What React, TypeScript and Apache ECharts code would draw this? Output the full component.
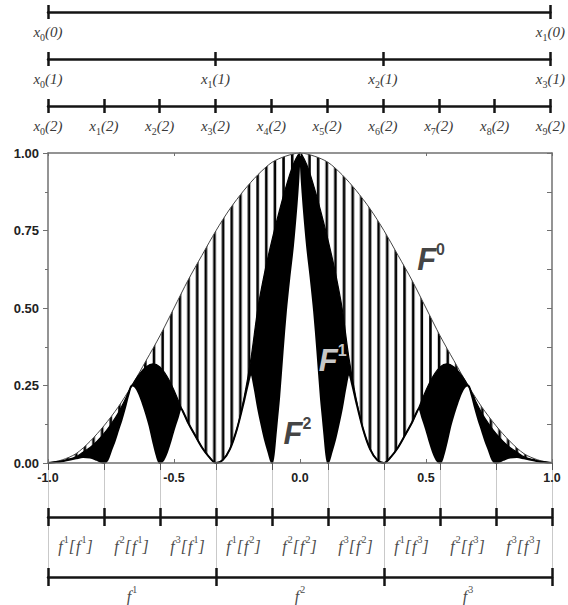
import React, { useEffect, useRef } from 'react';
import * as echarts from 'echarts';

// ---- data ----
const F0_X = [-1, -0.944, -0.889, -0.833, -0.778, -0.722, -0.667, -0.611, -0.556, -0.5, -0.444, -0.389, -0.333, -0.278, -0.222, -0.167, -0.111, -0.056, 0, 0.056, 0.111, 0.167, 0.222, 0.278, 0.333, 0.389, 0.444, 0.5, 0.556, 0.611, 0.667, 0.722, 0.778, 0.833, 0.889, 0.944, 1];
const F0_Y = [0, 0.01, 0.03, 0.07, 0.12, 0.18, 0.25, 0.33, 0.41, 0.5, 0.59, 0.67, 0.75, 0.82, 0.88, 0.93, 0.97, 0.99, 1, 0.99, 0.97, 0.93, 0.88, 0.82, 0.75, 0.67, 0.59, 0.5, 0.41, 0.33, 0.25, 0.18, 0.12, 0.07, 0.03, 0.01, 0];

const F1_X = [-1, -0.972, -0.944, -0.917, -0.889, -0.861, -0.833, -0.806, -0.778, -0.75, -0.722, -0.694, -0.667, -0.639, -0.611, -0.583, -0.556, -0.528, -0.5, -0.472, -0.444, -0.417, -0.389, -0.361, -0.333, -0.306, -0.278, -0.25, -0.222, -0.194, -0.167, -0.139, -0.111, -0.083, -0.056, -0.028, 0, 0.028, 0.056, 0.083, 0.111, 0.139, 0.167, 0.194, 0.222, 0.25, 0.278, 0.306, 0.333, 0.361, 0.389, 0.417, 0.444, 0.472, 0.5, 0.528, 0.556, 0.583, 0.611, 0.639, 0.667, 0.694, 0.722, 0.75, 0.778, 0.806, 0.833, 0.861, 0.889, 0.917, 0.944, 0.972, 1];
const F1_Y = [0, 0.002, 0.006, 0.012, 0.02, 0.035, 0.05, 0.07, 0.095, 0.125, 0.16, 0.205, 0.25, 0.285, 0.31, 0.32, 0.31, 0.28, 0.235, 0.18, 0.13, 0.09, 0.05, 0.02, 0, 0.01, 0.045, 0.11, 0.21, 0.34, 0.5, 0.62, 0.72, 0.81, 0.89, 0.96, 1, 0.96, 0.89, 0.81, 0.72, 0.62, 0.5, 0.34, 0.21, 0.11, 0.045, 0.01, 0, 0.02, 0.05, 0.09, 0.13, 0.18, 0.235, 0.28, 0.31, 0.32, 0.31, 0.285, 0.25, 0.205, 0.16, 0.125, 0.095, 0.07, 0.05, 0.035, 0.02, 0.012, 0.006, 0.002, 0];

const F2_X = [-1, -0.944, -0.889, -0.861, -0.833, -0.806, -0.778, -0.764, -0.75, -0.736, -0.722, -0.708, -0.694, -0.681, -0.667, -0.653, -0.639, -0.625, -0.611, -0.597, -0.583, -0.569, -0.556, -0.542, -0.528, -0.514, -0.5, -0.486, -0.472, -0.458, -0.444, -0.417, -0.389, -0.361, -0.333, -0.306, -0.278, -0.25, -0.222, -0.208, -0.194, -0.181, -0.167, -0.153, -0.139, -0.125, -0.111, -0.104, -0.097, -0.09, -0.083, -0.069, -0.056, -0.042, -0.028, -0.014, -0.007, 0,
  0.007, 0.014, 0.028, 0.042, 0.056, 0.069, 0.083, 0.09, 0.097, 0.104, 0.111, 0.125, 0.139, 0.153, 0.167, 0.181, 0.194, 0.208, 0.222, 0.25, 0.278, 0.306, 0.333, 0.361, 0.389, 0.417, 0.444, 0.458, 0.472, 0.486, 0.5, 0.514, 0.528, 0.542, 0.556, 0.569, 0.583, 0.597, 0.611, 0.625, 0.639, 0.653, 0.667, 0.681, 0.694, 0.708, 0.722, 0.736, 0.75, 0.764, 0.778, 0.806, 0.833, 0.861, 0.889, 0.944, 1];
const F2_Y = [0, 0.006, 0.015, 0.019, 0.018, 0.01, 0, 0.01, 0.04, 0.07, 0.105, 0.14, 0.18, 0.22, 0.25, 0.245, 0.225, 0.195, 0.16, 0.12, 0.07, 0.025, 0, 0.01, 0.035, 0.07, 0.11, 0.145, 0.175, 0.155, 0.13, 0.09, 0.05, 0.02, 0, 0.01, 0.045, 0.11, 0.2, 0.25, 0.29, 0.245, 0.18, 0.125, 0.075, 0.035, 0, 0.03, 0.09, 0.15, 0.21, 0.36, 0.49, 0.6, 0.7, 0.83, 0.91, 1,
  0.91, 0.83, 0.7, 0.6, 0.49, 0.36, 0.21, 0.15, 0.09, 0.03, 0, 0.035, 0.075, 0.125, 0.18, 0.245, 0.29, 0.25, 0.2, 0.11, 0.045, 0.01, 0, 0.02, 0.05, 0.09, 0.13, 0.155, 0.175, 0.145, 0.11, 0.07, 0.035, 0.01, 0, 0.025, 0.07, 0.12, 0.16, 0.195, 0.225, 0.245, 0.25, 0.22, 0.18, 0.14, 0.105, 0.07, 0.04, 0.01, 0, 0.01, 0.018, 0.019, 0.015, 0.006, 0];

const TOP_LABELS_0 = ['x_0(0)', 'x_1(0)'];
const TOP_LABELS_1 = ['x_0(1)', 'x_1(1)', 'x_2(1)', 'x_3(1)'];
const TOP_LABELS_2 = ['x_0(2)', 'x_1(2)', 'x_2(2)', 'x_3(2)', 'x_4(2)', 'x_5(2)', 'x_6(2)', 'x_7(2)', 'x_8(2)', 'x_9(2)'];
const SUB_MAPS = ['f1[f1]', 'f2[f1]', 'f3[f1]', 'f1[f2]', 'f2[f2]', 'f3[f2]', 'f1[f3]', 'f2[f3]', 'f3[f3]'];
const MAPS = ['f1', 'f2', 'f3'];
const NINTH_TICKS = ['', '', '', '', '', '', '', '', '', ''];
const CURVE_LABELS = [
  { name: 'F', sup: '0', at: [0.52, 0.66], white: false },
  { name: 'F', sup: '1', at: [0.13, 0.335], white: true },
  { name: 'F', sup: '2', at: [-0.01, 0.1], white: false },
];

const pairs = (xs: number[], ys: number[]) => xs.map((x, i) => [x, ys[i]]);

const LEFT = 48;
const RIGHT = 16;
const AXIS_GRAY = '#707070';
const BAR_BLACK = '#141414';
const LABEL_GRAY = '#3a3a3a';

const xLabel = (s: string) => {
  const m = /x_(\d)\((\d)\)/.exec(s);
  if (!m) return s;
  return `{i|x}{s|${m[1]}}{i|(${m[2]})}`;
};
const fLabel = (s: string) => {
  let out = '';
  for (const ch of s) {
    if (/\d/.test(ch)) out += `{p|${ch}}`;
    else out += `{i|${ch}}`;
  }
  return out;
};

const xRich = {
  i: { fontFamily: 'Liberation Serif', fontStyle: 'italic', fontSize: 15, color: LABEL_GRAY, lineHeight: 18, verticalAlign: 'top' },
  s: { fontFamily: 'Liberation Serif', fontSize: 10, color: LABEL_GRAY, lineHeight: 10, verticalAlign: 'bottom' },
};
const fRich = {
  i: { fontFamily: 'Liberation Serif', fontStyle: 'italic', fontSize: 16, color: '#4a4a4a', lineHeight: 20, verticalAlign: 'bottom', padding: [0, 1, 0, 0] },
  p: { fontFamily: 'Liberation Serif', fontSize: 10, color: '#4a4a4a', lineHeight: 11, verticalAlign: 'top' },
};

function barAxes(gridIndex: number, data: string[], boundaryGap: boolean, tickLen: number, labelMargin: number, formatter: (s: string) => string, rich: any, split: boolean) {
  const tickStyle = { color: BAR_BLACK, width: 2.5 };
  return [
    {
      type: 'category', gridIndex, position: 'bottom', data, boundaryGap,
      axisLine: { show: true, onZero: false, lineStyle: { color: BAR_BLACK, width: 2.5 } },
      axisTick: { show: true, interval: 0, length: tickLen, lineStyle: tickStyle },
      axisLabel: { show: true, interval: 0, margin: labelMargin, formatter: (v: string) => formatter(v), rich },
      splitLine: { show: split, interval: 0, lineStyle: { color: '#c9c9c9', width: 1 } },
      z: 5,
    },
    {
      type: 'category', gridIndex, position: boundaryGap ? 'bottom' : 'top', data, boundaryGap,
      axisLine: { show: false, onZero: false },
      axisTick: { show: true, interval: 0, inside: boundaryGap, length: tickLen, lineStyle: tickStyle },
      axisLabel: { show: false },
      splitLine: { show: false },
      z: 5,
    },
  ];
}

function hatchPattern() {
  const step = 8.64;
  const w = step * 10;
  let rects = '';
  for (let k = 0; k < 10; k++) {
    const x = 5.8 + k * step;
    rects += `<rect x='${x.toFixed(2)}' y='0' width='2.6' height='10' fill='#000'/>`;
  }
  const svg = `<svg xmlns='http://www.w3.org/2000/svg' width='${w}' height='10'>${rects}</svg>`;
  return {
    image: 'data:image/svg+xml;charset=utf-8,' + encodeURIComponent(svg),
    repeat: 'repeat',
    imageWidth: w,
    imageHeight: 10,
  };
}

export default function App() {
  const ref = useRef<HTMLDivElement>(null);
  useEffect(() => {
    if (!ref.current) return;
    const chart = echarts.init(ref.current, undefined, { renderer: 'svg' });

    const boldLabel = { fontFamily: 'Liberation Sans', fontWeight: 'bold', fontSize: 12.5, color: '#222' };

    const xAxes: any[] = [
      {
        type: 'value', gridIndex: 0, position: 'bottom', min: -1, max: 1, interval: 0.5,
        axisLine: { show: true, onZero: false, lineStyle: { color: AXIS_GRAY, width: 1.5 } },
        axisTick: { show: true, inside: true, length: 4, lineStyle: { color: AXIS_GRAY } },
        axisLabel: { ...boldLabel, margin: 8, formatter: (v: number) => v.toFixed(1) },
        splitLine: { show: false }, z: 10,
      },
      {
        type: 'value', gridIndex: 0, position: 'top', min: -1, max: 1, interval: 0.5,
        axisLine: { show: true, onZero: false, lineStyle: { color: AXIS_GRAY, width: 1.5 } },
        axisTick: { show: true, inside: true, length: 3, lineStyle: { color: AXIS_GRAY } },
        axisLabel: { show: false }, splitLine: { show: false }, z: 10,
      },
      {
        type: 'category', gridIndex: 0, position: 'bottom', data: NINTH_TICKS, boundaryGap: false,
        axisLine: { show: false, onZero: false },
        axisTick: { show: true, interval: 0, length: 7, lineStyle: { color: '#555', width: 1 } },
        axisLabel: { show: false }, splitLine: { show: false }, z: 10,
      },
      ...barAxes(1, TOP_LABELS_0, false, 7, 12, xLabel, xRich, false),
      ...barAxes(2, TOP_LABELS_1, false, 7, 12, xLabel, xRich, false),
      ...barAxes(3, TOP_LABELS_2, false, 7, 12, xLabel, xRich, false),
      ...barAxes(4, SUB_MAPS, true, 9, 17, fLabel, fRich, true),
      ...barAxes(5, MAPS, true, 9, 7, fLabel, fRich, true),
    ];

    const hiddenY = (gridIndex: number) => ({ type: 'value', gridIndex, show: false, min: 0, max: 1 });
    const yAxes: any[] = [
      {
        type: 'value', gridIndex: 0, position: 'left', min: 0, max: 1, interval: 0.25,
        axisLine: { show: true, onZero: false, lineStyle: { color: AXIS_GRAY, width: 1.5 } },
        axisTick: { show: true, length: 5, lineStyle: { color: AXIS_GRAY } },
        minorTick: { show: true, splitNumber: 2, length: 3, lineStyle: { color: AXIS_GRAY } },
        axisLabel: { ...boldLabel, fontSize: 13, margin: 9, formatter: (v: number) => v.toFixed(2) },
        splitLine: { show: false }, z: 10,
      },
      {
        type: 'value', gridIndex: 0, position: 'right', min: 0, max: 1, interval: 0.125,
        axisLine: { show: true, onZero: false, lineStyle: { color: AXIS_GRAY, width: 1.5 } },
        axisTick: { show: true, inside: true, length: 5, lineStyle: { color: AXIS_GRAY } },
        axisLabel: { show: false }, splitLine: { show: false }, z: 10,
      },
      hiddenY(1), hiddenY(2), hiddenY(3), hiddenY(4), hiddenY(5),
    ];

    const areaSeries = (data: number[][], color: any) => ({
      type: 'line', xAxisIndex: 0, yAxisIndex: 0, data, smooth: 0.3, symbol: 'none',
      lineStyle: { width: 0, opacity: 0 }, areaStyle: { color, opacity: 1 }, silent: true,
    });
    const lineSeries = (data: number[][], width: number, color: string) => ({
      type: 'line', xAxisIndex: 0, yAxisIndex: 0, data, smooth: 0.3, symbol: 'none',
      lineStyle: { width, color }, silent: true,
    });

    const f0 = pairs(F0_X, F0_Y);
    const f1 = pairs(F1_X, F1_Y);
    const f2 = pairs(F2_X, F2_Y);

    const labelData = CURVE_LABELS.map((c) => {
      const col = c.white ? '#fff' : '#111';
      return {
        value: c.at,
        label: {
          show: true, position: 'inside',
          formatter: `{F|${c.name}}{S|${c.sup}}`,
          rich: {
            F: { fontFamily: 'Liberation Sans', fontWeight: 'bold', fontStyle: 'italic', fontSize: 31, color: col, lineHeight: 34, verticalAlign: 'bottom' },
            S: { fontFamily: 'Liberation Sans', fontWeight: 'bold', fontSize: 16, color: col, lineHeight: 18, verticalAlign: 'top' },
          },
        },
      };
    });

    const option: any = {
      animation: false,
      backgroundColor: '#fff',
      grid: [
        { left: LEFT, right: RIGHT, top: 153, height: 310 },
        { left: LEFT, right: RIGHT, top: 12, height: 0 },
        { left: LEFT, right: RIGHT, top: 59, height: 0 },
        { left: LEFT, right: RIGHT, top: 106, height: 0 },
        { left: LEFT, right: RIGHT, top: 463, height: 54 },
        { left: LEFT, right: RIGHT, top: 517, height: 60 },
      ],
      xAxis: xAxes,
      yAxis: yAxes,
      series: [
        areaSeries(f0, hatchPattern()),
        areaSeries(f1, '#000'),
        areaSeries(f2, '#fff'),
        lineSeries(f0, 1, '#444'),
        lineSeries(f1, 1.2, '#000'),
        lineSeries(f2, 2, '#000'),
        {
          type: 'scatter', xAxisIndex: 0, yAxisIndex: 0, symbolSize: 1,
          itemStyle: { color: 'rgba(0,0,0,0)' }, data: labelData, silent: true, z: 20,
        },
      ],
    };
    chart.setOption(option);
    return () => chart.dispose();
  }, []);
  return <div ref={ref} style={{ position: 'absolute', left: 0, top: 0, width: 568, height: 605 }} />;
}
